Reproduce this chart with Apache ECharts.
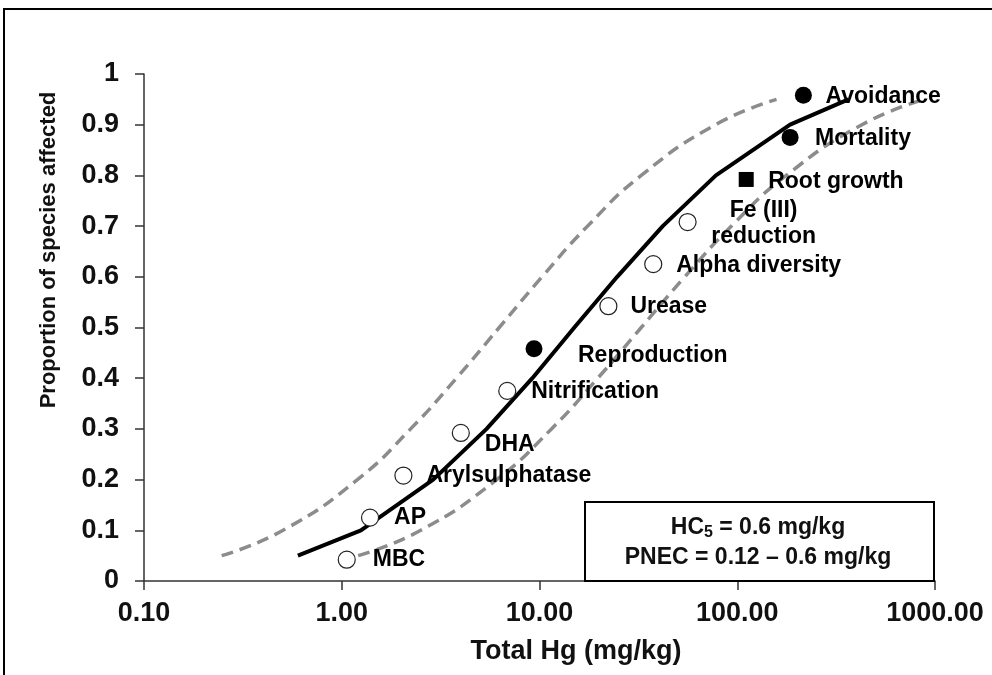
<!DOCTYPE html>
<html><head><meta charset="utf-8">
<script src="https://cdn.jsdelivr.net/npm/echarts@6/dist/echarts.min.js"></script>
<style>html,body{margin:0;padding:0;background:#fff}#c{width:992px;height:675px}</style>
</head><body><div id="c"></div>
<script>
// ---- data ----
const endpointNames = ['MBC','AP','Arylsulphatase','DHA','Nitrification','Reproduction','Urease','Alpha diversity','Fe (III)\nreduction','Root growth','Mortality','Avoidance'];
const endpointHg = [1.06, 1.39, 2.05, 4.0, 6.87, 9.38, 22.3, 37.6, 56.1, 111, 185, 216];
const endpointProportion = [0.042, 0.125, 0.208, 0.292, 0.375, 0.458, 0.542, 0.625, 0.708, 0.792, 0.875, 0.958];
const endpointType = ['open','open','open','open','open','filled','open','open','open','square','filled','filled'];
const curveProportion = [0.05, 0.1, 0.2, 0.3, 0.4, 0.5, 0.6, 0.7, 0.8, 0.9, 0.95];
const fitHg   = [0.6, 1.25, 2.9, 5.4, 9.2, 15, 24.7, 42, 78, 185, 365];
const upperHg = [0.247, 0.505, 1.20, 2.23, 3.80, 6.26, 10.3, 17.5, 32.7, 77.6, 158];
const lowerHg = [1.21, 2.51, 6.07, 11.5, 19.7, 32.7, 54.3, 93.5, 177, 427, 883];
const xTickLabels = ['0.10','1.00','10.00','100.00','1000.00'];
const yTickLabels = ['0','0.1','0.2','0.3','0.4','0.5','0.6','0.7','0.8','0.9','1'];

// ---- label placement (style, not data) ----
const labelOffset = {
  'MBC':[26,0], 'AP':[24,0], 'Arylsulphatase':[23,0], 'DHA':[24,12], 'Nitrification':[24,1],
  'Reproduction':[44,7], 'Urease':[22,0], 'Alpha diversity':[23,2], 'Fe (III)\nreduction':[76,2],
  'Root growth':[22,2], 'Mortality':[25,1], 'Avoidance':[22,1]
};
const FONT = '"Liberation Sans", Arial, sans-serif';

function pts(type) {
  const out = [];
  endpointNames.forEach((n, i) => {
    if (endpointType[i] !== type) return;
    const off = labelOffset[n];
    const centered = n.indexOf('\n') >= 0;
    out.push({
      name: n, value: [endpointHg[i], endpointProportion[i]],
      label: { show: true, position: 'inside', align: centered ? 'center' : 'left',
               verticalAlign: 'middle', offset: off, formatter: '{b}',
               fontFamily: FONT, fontSize: 23, fontWeight: 'bold', color: '#000', lineHeight: 26,
               textBorderWidth: 0, textBorderColor: 'transparent', opacity: 1 }
    });
  });
  return out;
}
const line = (xs) => xs.map((x, i) => [x, curveProportion[i]]);

const chart = echarts.init(document.getElementById('c'), null, { renderer: 'canvas' });
chart.setOption({
  animation: false,
  backgroundColor: '#fff',
  grid: { left: 144, right: 57, top: 74, bottom: 94, containLabel: false },
  xAxis: {
    type: 'log', logBase: 10, min: 0.1, max: 1000,
    axisLine: { show: true, lineStyle: { color: '#333', width: 1.5 } },
    axisTick: { show: true, length: 9, lineStyle: { color: '#333', width: 1.5 } },
    axisLabel: { fontFamily: FONT, fontSize: 27, fontWeight: 'bold', color: '#111', margin: 19,
      formatter: (v) => { const k = Math.round(Math.log10(v)) + 1; return xTickLabels[k] || ''; } },
    splitLine: { show: false }, minorTick: { show: false }
  },
  yAxis: {
    type: 'value', min: 0, max: 1, interval: 0.1,
    axisLine: { show: true, lineStyle: { color: '#333', width: 1.5 } },
    axisTick: { show: true, length: 9, lineStyle: { color: '#333', width: 1.5 } },
    axisLabel: { fontFamily: FONT, fontSize: 27, fontWeight: 'bold', color: '#111', margin: 25,
      formatter: (v) => yTickLabels[Math.round(v * 10)] },
    splitLine: { show: false }
  },
  series: [
    { type: 'line', data: line(upperHg), smooth: true, symbol: 'none', z: 2,
      lineStyle: { color: '#8c8c8c', width: 3.5, type: [12, 7] } },
    { type: 'line', data: line(lowerHg), smooth: true, symbol: 'none', z: 2,
      lineStyle: { color: '#8c8c8c', width: 3.5, type: [12, 7] } },
    { type: 'line', data: line(fitHg), smooth: false, symbol: 'none', z: 3,
      lineStyle: { color: '#000', width: 4 } },
    { type: 'scatter', data: pts('open'), symbol: 'circle', symbolSize: 17, z: 5,
      itemStyle: { color: '#fff', borderColor: '#222', borderWidth: 1.2, opacity: 1 } },
    { type: 'scatter', data: pts('filled'), symbol: 'circle', symbolSize: 17, z: 5,
      itemStyle: { color: '#000', opacity: 1 } },
    { type: 'scatter', data: pts('square'), symbol: 'rect', symbolSize: 15, z: 5,
      itemStyle: { color: '#000', opacity: 1 } }
  ],
  graphic: [
    { type: 'rect', z: 0, silent: true, shape: { x: 4, y: 9, width: 1200, height: 1000 },
      style: { fill: 'transparent', stroke: '#000', lineWidth: 2 } },
    { type: 'rect', z: 10, shape: { x: 585, y: 502, width: 349, height: 79 },
      style: { fill: '#fff', stroke: '#000', lineWidth: 2 } },
    { type: 'text', z: 11, x: 758, y: 528, style: {
        text: '{a|HC}{s|5}{a| = 0.6 mg/kg}', align: 'center', verticalAlign: 'middle',
        rich: { a: { fontFamily: FONT, fontSize: 23, fontWeight: 'bold', fill: '#111', lineHeight: 26 },
                s: { fontFamily: FONT, fontSize: 16, fontWeight: 'bold', fill: '#111', lineHeight: 26, padding: [10, 0, 0, 0] } } } },
    { type: 'text', z: 11, x: 758, y: 558, style: {
        text: 'PNEC = 0.12 \u2013 0.6 mg/kg', align: 'center', verticalAlign: 'middle',
        font: 'bold 23px ' + FONT, fill: '#111' } },
    { type: 'text', z: 11, x: 576, y: 652, style: {
        text: 'Total Hg (mg/kg)', align: 'center', verticalAlign: 'middle',
        font: 'bold 27px ' + FONT, fill: '#111' } },
    { type: 'text', z: 11, x: 49, y: 250, rotation: Math.PI / 2, style: {
        text: 'Proportion of species affected', align: 'center', verticalAlign: 'middle',
        font: 'bold 22px ' + FONT, fill: '#111' } }
  ]
});
</script></body></html>
